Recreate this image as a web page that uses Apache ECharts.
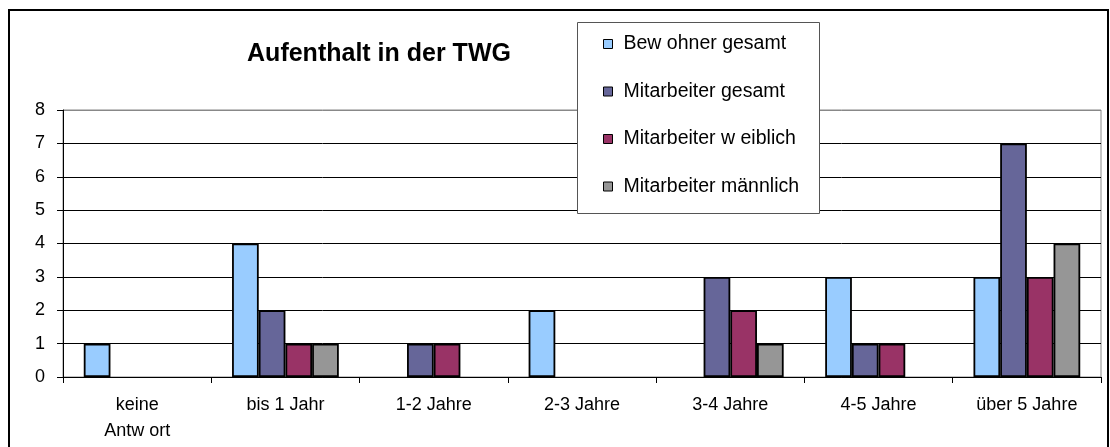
<!DOCTYPE html>
<html>
<head>
<meta charset="utf-8">
<script src="https://cdn.jsdelivr.net/npm/echarts@6/dist/echarts.min.js"></script>
<style>
  html, body { margin: 0; padding: 0; background: #fff; }
  #main { width: 1110px; height: 447px; }
</style>
</head>
<body>
<!-- chart container -->
<div id="main"></div>
<script>
// data
var categories = ['keine\nAntw ort', 'bis 1 Jahr', '1-2 Jahre', '2-3 Jahre', '3-4 Jahre', '4-5 Jahre', 'über 5 Jahre'];
var seriesNames = ['Bew ohner gesamt', 'Mitarbeiter gesamt', 'Mitarbeiter w eiblich', 'Mitarbeiter männlich'];
var bewohnerGesamt = [1, 4, 0, 2, 0, 3, 3];
var mitarbeiterGesamt = [0, 2, 1, 0, 3, 1, 7];
var mitarbeiterWeiblich = [0, 1, 1, 0, 2, 1, 3];
var mitarbeiterMaennlich = [0, 1, 0, 0, 1, 0, 4];
var yTicks = [0, 1, 2, 3, 4, 5, 6, 7, 8];

var colors = ['#99ccff', '#666699', '#993366', '#969696'];
var font = 'Liberation Sans, Arial, sans-serif';

var chart = echarts.init(document.getElementById('main'));

var allValues = [bewohnerGesamt, mitarbeiterGesamt, mitarbeiterWeiblich, mitarbeiterMaennlich];
var series = [];
for (var i = 0; i < allValues.length; i++) {
    series.push({
        name: seriesNames[i],
        type: 'bar',
        // zero values are not drawn as bars
        data: allValues[i].map(function (v) { return v === 0 ? '-' : v; }),
        barGap: '0%',
        barCategoryGap: '28%',
        itemStyle: { color: colors[i], borderColor: '#000', borderWidth: 1.8 }
    });
}

// split line colours: black, top one grey
var splitColors = yTicks.map(function (t, i) { return i === yTicks.length - 1 ? '#888' : '#000'; });

var option = {
    animation: false,
    color: colors,
    textStyle: { fontFamily: font },
    title: {
        text: 'Aufenthalt in der TWG',
        left: 374,
        top: 37,
        textAlign: 'center',
        textStyle: { fontFamily: font, fontSize: 25, fontWeight: 'bold', color: '#000' }
    },
    graphic: [
        {
            type: 'rect',
            shape: { x: 9, y: 10, width: 1099, height: 460 },
            style: { fill: 'none', stroke: '#000', lineWidth: 2 },
            z: 100
        },
        {
            type: 'rect',
            shape: { x: 577.5, y: 22.5, width: 242, height: 191 },
            style: { fill: '#fff', stroke: '#555', lineWidth: 1 },
            z: 10
        }
    ],
    legend: {
        data: seriesNames,
        orient: 'vertical',
        left: 603,
        top: 34,
        padding: 0,
        itemGap: 27.5,
        itemWidth: 9,
        itemHeight: 9,
        icon: 'rect',
        z: 20,
        itemStyle: { borderColor: '#000', borderWidth: 1 },
        textStyle: { fontFamily: font, fontSize: 19.5, color: '#000', lineHeight: 20, padding: [0, 0, 0, 6] }
    },
    grid: {
        left: 63,
        top: 110,
        right: 9,
        bottom: 70,
        show: true,
        borderColor: '#888',
        borderWidth: 1
    },
    xAxis: {
        type: 'category',
        data: categories,
        boundaryGap: true,
        axisLine: { lineStyle: { color: '#000', width: 1 } },
        axisTick: { show: true, inside: false, length: 6, lineStyle: { color: '#000' } },
        axisLabel: { color: '#000', fontFamily: font, fontSize: 18, lineHeight: 26, margin: 15, interval: 0 }
    },
    yAxis: {
        type: 'value',
        min: 0,
        max: 8,
        interval: 1,
        axisLine: { show: true, lineStyle: { color: '#000', width: 1 } },
        axisTick: { show: true, inside: false, length: 6, lineStyle: { color: '#000' } },
        axisLabel: { color: '#000', fontFamily: font, fontSize: 18, margin: 18 },
        splitLine: { show: true, lineStyle: { color: splitColors, width: 1 } }
    },
    series: series
};

chart.setOption(option);
</script>
</body>
</html>
